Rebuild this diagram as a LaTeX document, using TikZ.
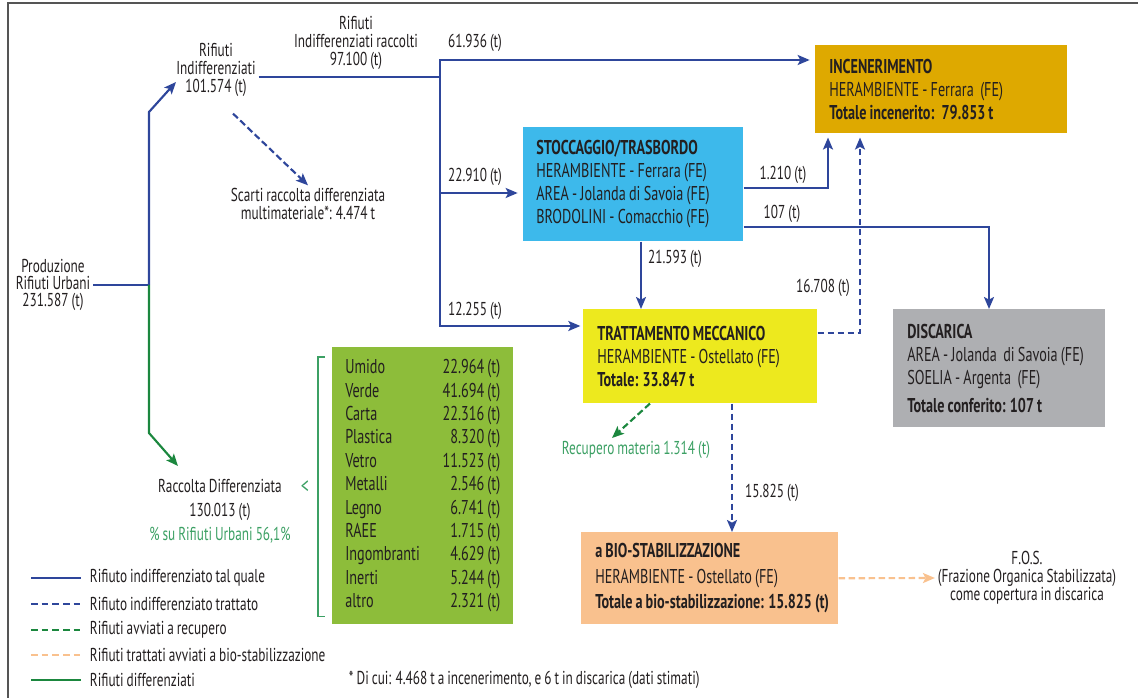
\documentclass[tikz,border=0pt]{standalone}
\usepackage{fontspec}
\setmainfont{PT Sans}[FakeStretch=0.71, WordSpace=0.85]
\usetikzlibrary{arrows.meta}
\usetikzlibrary{positioning}

\definecolor{flowblue}{RGB}{46,70,155}
\definecolor{flowgreen}{RGB}{27,135,62}
\definecolor{lightgreen}{RGB}{60,160,100}
\definecolor{incgold}{RGB}{222,169,0}
\definecolor{stocyan}{RGB}{61,185,235}
\definecolor{tmyellow}{RGB}{237,233,30}
\definecolor{disgray}{RGB}{174,175,178}
\definecolor{biopeach}{RGB}{249,193,142}
\definecolor{listgreen}{RGB}{141,189,58}
\definecolor{inkdark}{RGB}{35,31,32}
\definecolor{framegray}{RGB}{85,85,85}

\tikzset{
  tip/.style={-{Stealth[length=9pt,width=7.5pt,inset=2pt]}},
  flow/.style={flowblue, line width=1.6pt},
  treated/.style={flowblue, line width=1.6pt, dash pattern=on 5pt off 2.5pt},
  recov/.style={flowgreen, line width=1.6pt, dash pattern=on 5pt off 2.5pt},
  biodash/.style={biopeach, line width=1.6pt, dash pattern=on 5pt off 2.5pt},
  sorted/.style={flowgreen, line width=1.6pt},
  lbl/.style={text=inkdark, font=\fontsize{14}{13.5}\selectfont, inner sep=2pt},
  multi/.style={lbl, align=center},
  plant/.style={anchor=north west, text=inkdark, align=flush left, inner xsep=10.5pt,
    font=\fontsize{15}{17.25}\selectfont},
}

\begin{document}
\begin{tikzpicture}[x=0.75pt, y=-0.75pt]
  \useasboundingbox (0,0) rectangle (1138,698);
  \draw[framegray, line width=1.5pt] (1138,3) -- (8,3) -- (8,698);

  % boxes
  \node [plant, fill=incgold, text width=168pt, minimum height=66pt] (inc) at (815,45)
    {\textbf{INCENERIMENTO}\\HERAMBIENTE - Ferrara~ (FE)\\\textbf{Totale incenerito:~ 79.853 t}};
  \node [plant, fill=stocyan, text width=145.5pt, minimum height=85.5pt, inner xsep=9.75pt] (sto) at (523,127)
    {\textbf{STOCCAGGIO/TRASBORDO}\\HERAMBIENTE - Ferrara (FE)\\\mbox{AREA - Jolanda di Savoia (FE)}\\\mbox{BRODOLINI - Comacchio (FE)}};
  \node [plant, fill=tmyellow, text width=154.5pt, minimum height=70.5pt] (tm) at (583,309)
    {\textbf{TRATTAMENTO MECCANICO}\\HERAMBIENTE - Ostellato (FE)\\\textbf{Totale: 33.847 t}};
  \node [plant, fill=disgray, text width=138pt, minimum height=88.5pt] (dis) at (893,309)
    {\textbf{DISCARICA}\\\mbox{AREA - Jolanda~ di Savoia (FE)}\\SOELIA - Argenta~ (FE)\\[4pt]\textbf{Totale conferito: 107 t}};
  \node [plant, fill=biopeach, text width=171.75pt, minimum height=69pt,
    font=\fontsize{15}{19}\selectfont] (bio) at (581,532)
    {\textbf{a BIO-STABILIZZAZIONE}\\HERAMBIENTE - Ostellato (FE)\\\mbox{\textbf{Totale a bio-stabilizzazione: 15.825 (t)}}};
  \node [plant, fill=listgreen, text width=116.25pt, minimum height=207.75pt, inner xsep=9.75pt,
    font=\fontsize{15}{17.55}\selectfont] (list) at (332,347)
    {Umido \hfill 22.964 (t)\\Verde \hfill 41.694 (t)\\Carta \hfill 22.316 (t)\\
     Plastica \hfill 8.320 (t)\\Vetro \hfill 11.523 (t)\\Metalli \hfill 2.546 (t)\\
     Legno \hfill 6.741 (t)\\RAEE \hfill 1.715 (t)\\Ingombranti \hfill 4.629 (t)\\
     Inerti \hfill 5.244 (t)\\altro \hfill 2.321 (t)};

  % texts
  \node [multi, font=\fontsize{14}{12.75}\selectfont] (prod) at (53,285) {Produzione\\Rifiuti Urbani\\231.587 (t)};
  \node [multi] (indiff) at (216,70) {Rifiuti\\Indifferenziati\\101.574 (t)};
  \node [multi] (raccolti) at (356,43) {Rifiuti\\Indifferenziati raccolti\\97.100 (t)};
  \node [multi] (scarti) at (308,204) {Scarti raccolta differenziata\\multimateriale*: 4.474 t};
  \node [multi, font=\fontsize{14}{18}\selectfont] (rd) at (220,511)
    {Raccolta Differenziata\\130.013 (t)\\\textcolor{lightgreen}{\% su Rifiuti Urbani 56,1\%}};
  \node [lbl, text=lightgreen] (recup) at (636,450) {Recupero materia 1.314 (t)};
  \node [multi] (fos) at (1027,578) {F.O.S.\\(Frazione Organica Stabilizzata)\\come copertura in discarica};
  \node [lbl, text=lightgreen, font=\fontsize{17}{17}\selectfont] (lt) at (305,487) {<};
  \node [lbl, anchor=west] (note) at (346,680) {* Di cui: 4.468 t a incenerimento, e 6 t in discarica (dati stimati)};

  \node [lbl] (q1) at (475,43) {61.936 (t)};
  \node [lbl] (q2) at (475,177) {22.910 (t)};
  \node [lbl] (q3) at (475,311) {12.255 (t)};
  \node [lbl] (q4) at (783,175) {1.210 (t)};
  \node [lbl] (q5) at (782,214) {107 (t)};
  \node [lbl] (q6) at (675,259) {21.593 (t)};
  \node [lbl] (q7) at (823,288) {16.708 (t)};
  \node [lbl] (q8) at (772,493) {15.825 (t)};

  % legend
  \node [lbl, anchor=west] (lg1) at (87,578) {Rifiuto indifferenziato tal quale};
  \node [lbl, anchor=west] (lg2) at (87,604) {Rifiuto indifferenziato trattato};
  \node [lbl, anchor=west] (lg3) at (87,630) {Rifiuti avviati a recupero};
  \node [lbl, anchor=west] (lg4) at (87,655) {Rifiuti trattati avviati a bio-stabilizzazione};
  \node [lbl, anchor=west] (lg5) at (87,680) {Rifiuti differenziati};
  \draw[flow]    ([xshift=-42pt]lg1.west) -- ++(50,0);
  \draw[treated, dash pattern=on 5pt off 3pt] ([xshift=-42pt]lg2.west) -- ++(50,0);
  \draw[recov, dash pattern=on 5pt off 3pt]   ([xshift=-42pt]lg3.west) -- ++(50,0);
  \draw[biodash, dash pattern=on 5pt off 3pt] ([xshift=-42pt]lg4.west) -- ++(50,0);
  \draw[sorted]  ([xshift=-42pt]lg5.west) -- ++(50,0);

  % bracket of the list
  \draw[lightgreen, line width=0.8pt] ([shift={(-7,10)}]list.north west) -- ++(-7,0) |- ([shift={(-7,-8)}]list.south west);

  % connectors
  \coordinate (split) at (149,285);
  \coordinate (jn) at (440,77);
  \coordinate (upin) at (176,82);
  \coordinate (rdin) at (178,466);
  \coordinate (recin) at (612,438);
  \draw[flow] (prod.east) -- (split);
  \draw[flow, tip] (split) -- (149,112) -- (upin);
  \draw[sorted, tip] (split) -- (149,433) -- (rdin);
  \draw[treated, tip] ([shift={(17,14)}]indiff.south) -- (scarti.north);
  \draw[flow] (jn -| indiff.east) -- (jn);
  \draw[flow, tip, shorten >=4pt] (jn) |- (inc.west |- 0,60);
  \draw[flow, tip, shorten >=4pt] (jn) |- (sto.west |- 0,193);
  \draw[flow, tip, shorten >=2pt] (jn) |- (tm.west |- 0,326);
  \draw[flow, tip, shorten >=3pt] (sto.east |- 0,188) -| (inc.south -| 828,0);
  \draw[flow, tip] (sto.east |- 0,227) -| (dis.north -| 989,0);
  \draw[flow, tip] (sto.south -| 641,0) -- (tm.north -| 641,0);
  \draw[treated, tip, shorten >=3pt] (tm.east |- 0,333) -| (inc.south -| 860,0);
  \draw[treated, tip] (tm.south -| 732,0) -- (bio.north -| 732,0);
  \draw[recov, tip] (tm.south -| 650,0) -- (recin);
  \draw[biodash, tip] (bio.east) -- (fos.west);
\end{tikzpicture}
\end{document}
